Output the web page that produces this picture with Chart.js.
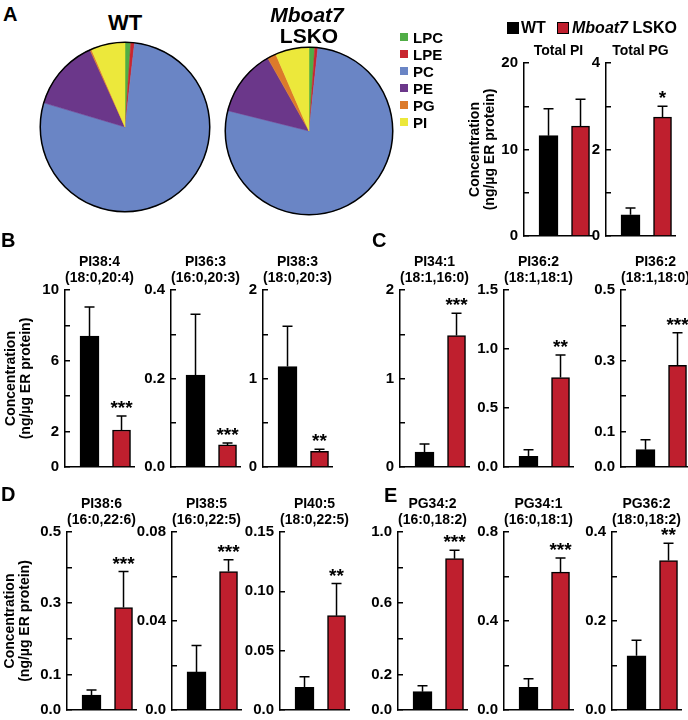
<!DOCTYPE html>
<html>
<head>
<meta charset="utf-8">
<script src="https://cdn.jsdelivr.net/npm/chart.js@4.4.0/dist/chart.umd.min.js"></script>
<style>
  body { margin: 0; background: #fff; }
  #fig { position: relative; width: 688px; height: 720px; overflow: hidden;
         font-family: 'Liberation Sans', Arial, sans-serif; font-weight: bold; color: #000; }
  #fig canvas, #fig .txt { position: absolute; }
  .txt { white-space: nowrap; line-height: 1; }
</style>
</head>
<body>
<div id="fig"></div>
<script>
// ---- panel A pies (percent of total phospholipid) ----
const lipidClasses = ['LPC', 'LPE', 'PC', 'PE', 'PG', 'PI'];
const wtShare = [1.1, 0.7, 77.8, 13.6, 0.3, 6.5];
const koShare = [1.1, 0.6, 77.2, 12.9, 1.7, 6.5];

// ---- bar panels: Total PI/PG, then B, C, D, E ----
const groups = ['WT', 'Mboat7 LSKO'];
const species = ['Total PI', 'Total PG',
  'PI38:4', 'PI36:3', 'PI38:3',
  'PI34:1', 'PI36:2', 'PI36:2',
  'PI38:6', 'PI38:5', 'PI40:5',
  'PG34:2', 'PG34:1', 'PG36:2'];
const chains = ['', '',
  '(18:0,20:4)', '(16:0,20:3)', '(18:0,20:3)',
  '(18:1,16:0)', '(18:1,18:1)', '(18:1,18:0)',
  '(16:0,22:6)', '(16:0,22:5)', '(18:0,22:5)',
  '(16:0,18:2)', '(16:0,18:1)', '(18:0,18:2)'];
const wtMean = [11.6, 0.49, 7.4, 0.208, 1.135, 0.17, 0.09, 0.049, 0.042, 0.0171, 0.019, 0.103, 0.102, 0.122];
const wtSem  = [3.1, 0.16, 1.64, 0.137, 0.455, 0.09, 0.057, 0.028, 0.014, 0.0119, 0.009, 0.033, 0.038, 0.035];
const koMean = [12.7, 2.75, 2.09, 0.05, 0.177, 1.485, 0.758, 0.287, 0.288, 0.0622, 0.0795, 0.85, 0.62, 0.336];
const koSem  = [3.1, 0.25, 0.79, 0.004, 0.023, 0.252, 0.192, 0.092, 0.101, 0.0053, 0.027, 0.047, 0.063, 0.039];
const koStars = ['', '*', '***', '***', '**', '***', '**', '***', '***', '***', '**', '***', '***', '**'];
const yMax  = [20, 4, 10, 0.4, 2, 2, 1.5, 0.5, 0.5, 0.08, 0.15, 1.0, 0.8, 0.4];
const yStep = [5, 1, 2, 0.1, 0.5, 0.5, 0.5, 0.1, 0.1, 0.02, 0.05, 0.2, 0.2, 0.1];
const yLabels = [
  ['0', '10', '20'], ['0', '2', '4'],
  ['0', '2', '6', '10'], ['0.0', '0.2', '0.4'], ['0', '1', '2'],
  ['0', '1', '2'], ['0.0', '0.5', '1.0', '1.5'], ['0.0', '0.1', '0.3', '0.5'],
  ['0.0', '0.1', '0.3', '0.5'], ['0.0', '0.04', '0.08'], ['0.0', '0.05', '0.10', '0.15'],
  ['0.0', '0.2', '0.6', '1.0'], ['0.0', '0.4', '0.8'], ['0.0', '0.2', '0.4']];
const yAxisTitle = ['Concentration', '(ng/µg ER protein)'];

// ---- styling / layout ----
const FONT = "'Liberation Sans', Arial, sans-serif";
const classColors = ['#50ad46', '#c8262f', '#6a85c5', '#6b378a', '#dc7a2b', '#ece83b'];
const wtColor = '#000000';
const koColor = '#bf1f2e';
// where each small chart's y axis sits (px in the figure)
const axisX = [524, 606, 65, 171, 263, 400, 504, 621, 67, 172, 280, 398, 504, 612];
const rowTop = [63, 63, 290, 290, 290, 290, 290, 290, 532, 532, 532, 532, 532, 532];
const rowBottom = [236, 236, 467, 467, 467, 467, 467, 467, 710, 710, 710, 710, 710, 710];
// first chart of a row carries the y title: canvas left and x of first title line
const titled = { 0: [455, 475], 2: [0, 11], 8: [0, 10] };
const PAD_TOP = 4, PAD_BOTTOM = 22;

Chart.defaults.font.family = FONT;
Chart.defaults.color = '#000';

const fig = document.getElementById('fig');

function addCanvas(left, top, w, h) {
  const c = document.createElement('canvas');
  c.width = w; c.height = h;
  c.style.left = left + 'px'; c.style.top = top + 'px';
  c.style.width = w + 'px'; c.style.height = h + 'px';
  fig.appendChild(c);
  return c.getContext('2d');
}

function addText(html, left, capTop, size, extra) {
  const d = document.createElement('div');
  d.className = 'txt';
  d.innerHTML = html;
  d.style.left = left + 'px';
  d.style.top = (capTop - 0.13 * size) + 'px';
  d.style.fontSize = size + 'px';
  if (extra) Object.assign(d.style, extra);
  fig.appendChild(d);
  return d;
}

// outline around the pie, no lines between slices
const pieRim = {
  id: 'pieRim',
  afterDatasetsDraw(chart) {
    const arc = chart.getDatasetMeta(0).data[0];
    const ctx = chart.ctx;
    ctx.save();
    ctx.strokeStyle = '#000';
    ctx.lineWidth = 1.5;
    ctx.beginPath();
    ctx.arc(arc.x, arc.y, arc.outerRadius, 0, Math.PI * 2);
    ctx.stroke();
    ctx.restore();
  }
};

// upward SEM bars plus significance stars
const errorBars = {
  id: 'errorBars',
  afterDatasetsDraw(chart) {
    const ctx = chart.ctx;
    const yScale = chart.scales.y;
    chart.data.datasets.forEach((ds, d) => {
      chart.getDatasetMeta(d).data.forEach((bar, k) => {
        const yTop = yScale.getPixelForValue(ds.data[k].y + ds.sem[k]);
        ctx.save();
        ctx.strokeStyle = '#000';
        ctx.lineWidth = 1.5;
        ctx.beginPath();
        ctx.moveTo(bar.x, bar.y);
        ctx.lineTo(bar.x, yTop);
        ctx.moveTo(bar.x - 5, yTop);
        ctx.lineTo(bar.x + 5, yTop);
        ctx.stroke();
        if (ds.stars[k]) {
          ctx.fillStyle = '#000';
          ctx.font = 'bold 19px ' + FONT;
          ctx.textAlign = 'center';
          ctx.textBaseline = 'alphabetic';
          ctx.fillText(ds.stars[k], bar.x, yTop - 2);
        }
        ctx.restore();
      });
    });
  }
};

function makePie(left, top, size, values) {
  new Chart(addCanvas(left, top, size, size), {
    type: 'pie',
    data: {
      labels: lipidClasses,
      datasets: [{
        data: values,
        backgroundColor: classColors,
        borderColor: classColors,
        borderWidth: 0.5,
        hoverOffset: 0
      }]
    },
    options: {
      responsive: false,
      animation: false,
      devicePixelRatio: 1,
      layout: { padding: 2 },
      plugins: { legend: { display: false }, tooltip: { enabled: false } }
    },
    plugins: [pieRim]
  });
}

makePie(38, 40, 174, wtShare);
makePie(223, 45, 172, koShare);

function tickFormatter(i) {
  return (value) => {
    const hit = yLabels[i].find(s => Math.abs(parseFloat(s) - value) < yStep[i] / 100);
    return hit === undefined ? '' : hit;
  };
}

species.forEach((name, i) => {
  const lines = chains[i] ? [name, chains[i]] : [name];
  const titleH = lines.length * 16 + 4;
  const first = titled[i];
  const yw = first ? axisX[i] - first[0] : 40;
  const left = axisX[i] - yw;
  const top = rowTop[i] - titleH - PAD_TOP;
  const w = yw + 69 + 8;
  const h = rowBottom[i] - rowTop[i] + titleH + PAD_TOP + PAD_BOTTOM;

  new Chart(addCanvas(left, top, w, h), {
    type: 'bar',
    data: {
      datasets: [
        { label: groups[0], data: [{ x: 0, y: wtMean[i] }], sem: [wtSem[i]], stars: [''],
          backgroundColor: wtColor, borderColor: '#000', borderWidth: 1, barThickness: 19 },
        { label: groups[1], data: [{ x: 1, y: koMean[i] }], sem: [koSem[i]], stars: [koStars[i]],
          backgroundColor: koColor, borderColor: '#000', borderWidth: 1.5, barThickness: 18 }
      ]
    },
    options: {
      responsive: false,
      animation: false,
      devicePixelRatio: 1,
      datasets: { bar: { grouped: false } },
      layout: { padding: { top: PAD_TOP, bottom: PAD_BOTTOM, left: 0, right: 8 } },
      plugins: {
        legend: { display: false },
        tooltip: { enabled: false },
        title: {
          display: true, text: lines, fullSize: false, color: '#000',
          padding: { top: 0, bottom: 4 },
          font: { size: 14, weight: 'bold', lineHeight: 16 / 14 }
        }
      },
      scales: {
        x: {
          type: 'linear', min: -0.766, max: 1.39, offset: false,
          ticks: { display: false },
          grid: { display: false },
          border: { display: true, color: '#000', width: 1.5 },
          afterFit: (sc) => { sc.height = 0; }
        },
        y: {
          min: 0, max: yMax[i],
          ticks: {
            stepSize: yStep[i], autoSkip: false, padding: 11, color: '#000',
            font: { size: 15, weight: 'bold' },
            callback: tickFormatter(i)
          },
          // negative length puts the tick marks inside the plot, as in the figure
          grid: { drawOnChartArea: false, drawTicks: true, tickLength: -5, color: '#000', lineWidth: 1.5 },
          border: { display: true, color: '#000', width: 1.5 },
          title: {
            display: !!first, text: yAxisTitle, color: '#000',
            font: { size: 14, weight: 'bold', lineHeight: 1.1 },
            padding: { top: first ? first[1] - first[0] - 7.7 : 0, bottom: 0 }
          },
          afterFit: (sc) => { sc.width = yw; }
        }
      }
    },
    plugins: [errorBars]
  });
});

// ---- text outside the charts ----
addText('A', 3, 7, 20);
addText('B', 1, 233, 20);
addText('C', 372, 233, 20);
addText('D', 1, 487, 20);
addText('E', 384, 488, 20);

addText('WT', 75, 15, 22, { width: '100px', textAlign: 'center' });
addText('<i>Mboat7</i>', 257, 7, 21, { width: '100px', textAlign: 'center' });
addText('LSKO', 259, 28, 21, { width: '100px', textAlign: 'center' });

// pie legend
lipidClasses.forEach((cls, k) => {
  const capTop = 32 + k * 17;
  const sw = document.createElement('div');
  Object.assign(sw.style, { position: 'absolute', left: '400px', top: (capTop + 1) + 'px',
    width: '8px', height: '8px', background: classColors[k] });
  fig.appendChild(sw);
  addText(cls, 413, capTop, 15);
});

// bar legend
[[507, wtColor, 521, groups[0]], [557, koColor, 572, '<i>Mboat7</i> LSKO']].forEach(([sx, col, tx, label]) => {
  const sw = document.createElement('div');
  Object.assign(sw.style, { position: 'absolute', left: sx + 'px', top: '22px', width: '10px', height: '10px',
    background: col, border: '1px solid #000' });
  fig.appendChild(sw);
  addText(label, tx, 22, 16);
});
</script>
</body>
</html>
